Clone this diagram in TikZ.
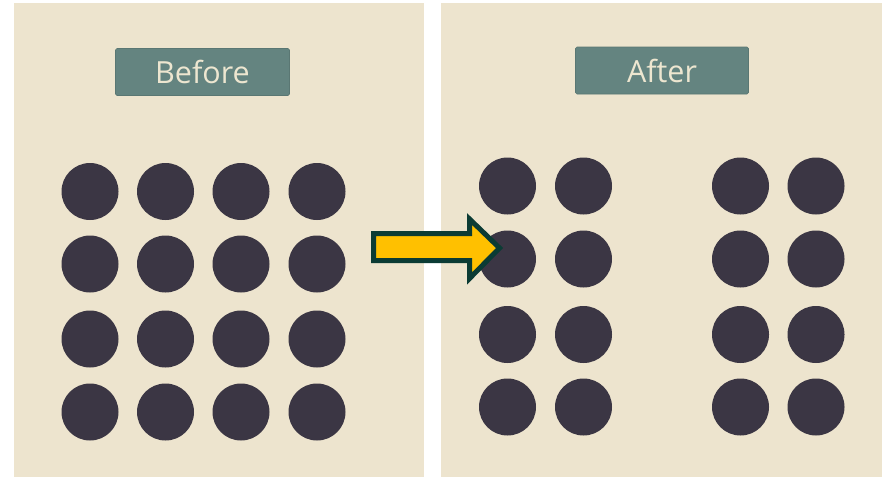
\documentclass[tikz,border=0pt]{standalone}
\usepackage{fontspec}
\setmainfont{Open Sans}
\definecolor{panelbg}{HTML}{EDE4CE}
\definecolor{dotc}{HTML}{3B3644}
\definecolor{labelbg}{HTML}{648480}
\definecolor{labeltx}{HTML}{EDE6D0}
\definecolor{arrowfill}{HTML}{FFC000}
\definecolor{arrowline}{HTML}{0B3B34}
\begin{document}
\begin{tikzpicture}[x=1pt,y=-1pt,
  panel/.style={fill=panelbg,draw=none},
  dot/.style={circle,fill=dotc,draw=none,minimum size=57pt,inner sep=0pt},
  labelbox/.style={fill=labelbg,draw=labelbg!90!black,line width=0.6pt,rounded corners=1.5pt,text=labeltx,font=\fontsize{30.5}{32}\selectfont,inner sep=0pt,minimum height=47pt},
  blockarrow/.style={fill=arrowfill,draw=arrowline,line width=5pt,line join=miter}]
\useasboundingbox (0,0) rectangle (885,477);
\fill[white] (0,0) rectangle (885,477);
\path[panel] (14,3) rectangle (424,477);
\path[panel] (441,3) rectangle (882,477);
\node[labelbox,minimum width=174pt] (before) at (202.5,72) {Before};
\node[labelbox,minimum width=173pt] (after) at (662,70.5) {After};
% before grid
\foreach \c/\x in {1/90,2/165.5,3/241,4/317}{
  \foreach \r/\y in {1/191.5,2/264,3/339,4/412}{
    \node[dot] (b\r\c) at (\x,\y) {};
  }
}
% after grid
\foreach \c/\x in {1/507.5,2/583.5,3/740.5,4/816}{
  \foreach \r/\y in {1/186,2/259,3/334.5,4/407}{
    \node[dot] (a\r\c) at (\x,\y) {};
  }
}
% block arrow
\draw[blockarrow] (373.5,233.5) -- (469.5,233.5) -- (469.5,219) -- (499.5,248) -- (469.5,278.5) -- (469.5,260.5) -- (373.5,260.5) -- cycle;
\end{tikzpicture}
\end{document}
